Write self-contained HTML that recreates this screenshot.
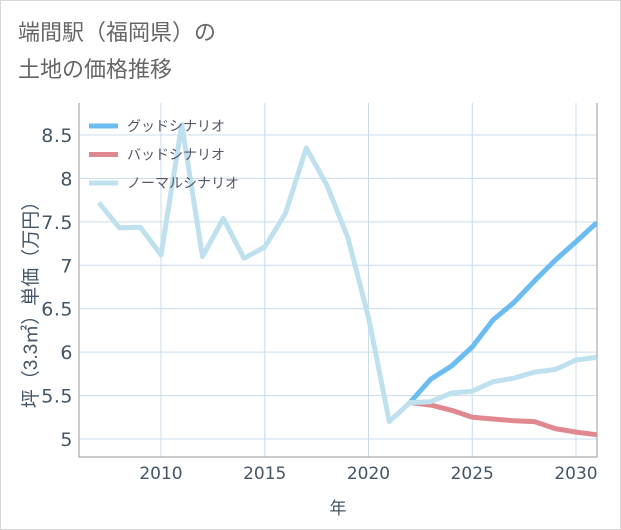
<!DOCTYPE html>
<html><head><meta charset="utf-8"><style>
body{margin:0;background:#fff;}
#wrap{position:relative;width:619px;height:528px;border:1px solid #d8d8d8;background:#fff;font-family:"Liberation Sans","Noto Sans CJK JP",sans-serif;}
.title{position:absolute;left:17px;font-size:22px;color:#666;line-height:1;}
</style></head><body>
<div id="wrap">
<div class="title" style="top:21px">端間駅（福岡県）の</div>
<div class="title" style="top:58px">土地の価格推移</div>
<svg id="chart" width="621" height="530" style="position:absolute;left:-1px;top:-1px"></svg>
</div>
<script>
const years=[2007,2008,2009,2010,2011,2012,2013,2014,2015,2016,2017,2018,2019,2020,2021,2022,2023,2024,2025,2026,2027,2028,2029,2030,2031];
const normalVals=[7.72,7.43,7.44,7.12,8.62,7.10,7.54,7.08,7.21,7.60,8.35,7.92,7.32,6.40,5.20,5.42,5.43,5.53,5.55,5.66,5.70,5.77,5.80,5.91,5.94];
const goodYears=[2022,2023,2024,2025,2026,2027,2028,2029,2030,2031];
const goodVals=[5.42,5.69,5.84,6.06,6.37,6.57,6.82,7.06,7.27,7.49];
const badVals=[5.42,5.39,5.33,5.25,5.23,5.21,5.20,5.12,5.08,5.05];
const yTicks=[5,5.5,6,6.5,7,7.5,8,8.5];
const yTickLabels=["5","5.5","6","6.5","7","7.5","8","8.5"];
const xTicks=[2010,2015,2020,2025,2030];
const xTickLabels=["2010","2015","2020","2025","2030"];
const L=79,R=597,T=103,B=457;
const xs=y=>161+(y-2010)*20.75;
const ys=v=>439-(v-5)*86.86;
const svg=document.getElementById('chart');
const NS='http://www.w3.org/2000/svg';
function mk(t,a){const e=document.createElementNS(NS,t);for(const k in a)e.setAttribute(k,a[k]);svg.appendChild(e);return e;}
const defs=mk('defs',{});const cp=document.createElementNS(NS,'clipPath');cp.setAttribute('id','clip');defs.appendChild(cp);
const cr=document.createElementNS(NS,'rect');cr.setAttribute('x',L);cr.setAttribute('y',T);cr.setAttribute('width',R-L);cr.setAttribute('height',B-T);cp.appendChild(cr);
yTicks.forEach((v,i)=>{
 const g=mk('line',{x1:L,x2:R,y1:ys(v),y2:ys(v),stroke:'#c9dcea','stroke-width':1});
 
 
 const t=mk('text',{x:73,y:ys(v)+7,'text-anchor':'end','font-size':19,fill:'#445566','font-family':'DejaVu Sans, sans-serif','letter-spacing':'0.5'});
 t.textContent=yTickLabels[i];
 
 
});
xTicks.forEach((v,i)=>{
 const g=mk('line',{x1:xs(v),x2:xs(v),y1:T,y2:B,stroke:'#c9dcea','stroke-width':1});
 
 
 const t=mk('text',{x:xs(v),y:479,'text-anchor':'middle','font-size':17,fill:'#445566','font-family':'DejaVu Sans, sans-serif'});
 t.textContent=xTickLabels[i];
 
 
});
const ax=mk('path',{d:`M${L} ${T}V${B}H${R}V${T}`,fill:'none',stroke:'#999','stroke-width':1});


function line(xv,yv,color,name){
 const d=xv.map((x,i)=>(i?'L':'M')+xs(x).toFixed(1)+' '+ys(yv[i]).toFixed(1)).join(' ');
 const p=mk('path',{d,fill:'none',stroke:color,'stroke-width':5,'stroke-linejoin':'round','clip-path':'url(#clip)'});
 
 
}
line(goodYears,goodVals,'#6bbcf0','good-scenario-line');
line(goodYears,badVals,'#e0888f','bad-scenario-line');
line(years,normalVals,'#bfe0ee','normal-scenario-line');
const legend=[['グッドシナリオ','#6bbcf0'],['バッドシナリオ','#e0888f'],['ノーマルシナリオ','#bfe0ee']];
legend.forEach((l,i)=>{
 const y=126+i*28.5;
 const r=mk('line',{x1:89,x2:118,y1:y,y2:y,stroke:l[1],'stroke-width':5});
 
 
 const t=mk('text',{x:127,y:y+5,'font-size':14,fill:'#556','font-family':'Liberation Sans, Noto Sans CJK JP, sans-serif'});
 t.textContent=l[0];
 
 
});
const yt=mk('text',{x:0,y:0,transform:'translate(37,300) rotate(-90)','text-anchor':'middle','font-size':19,fill:'#445566','font-family':'Liberation Sans, Noto Sans CJK JP, sans-serif'});
yt.textContent='坪（3.3㎡）単価（万円）';


const xt=mk('text',{x:338,y:514,'text-anchor':'middle','font-size':17,fill:'#445566','font-family':'Liberation Sans, Noto Sans CJK JP, sans-serif'});
xt.textContent='年';


</script>
</body></html>
